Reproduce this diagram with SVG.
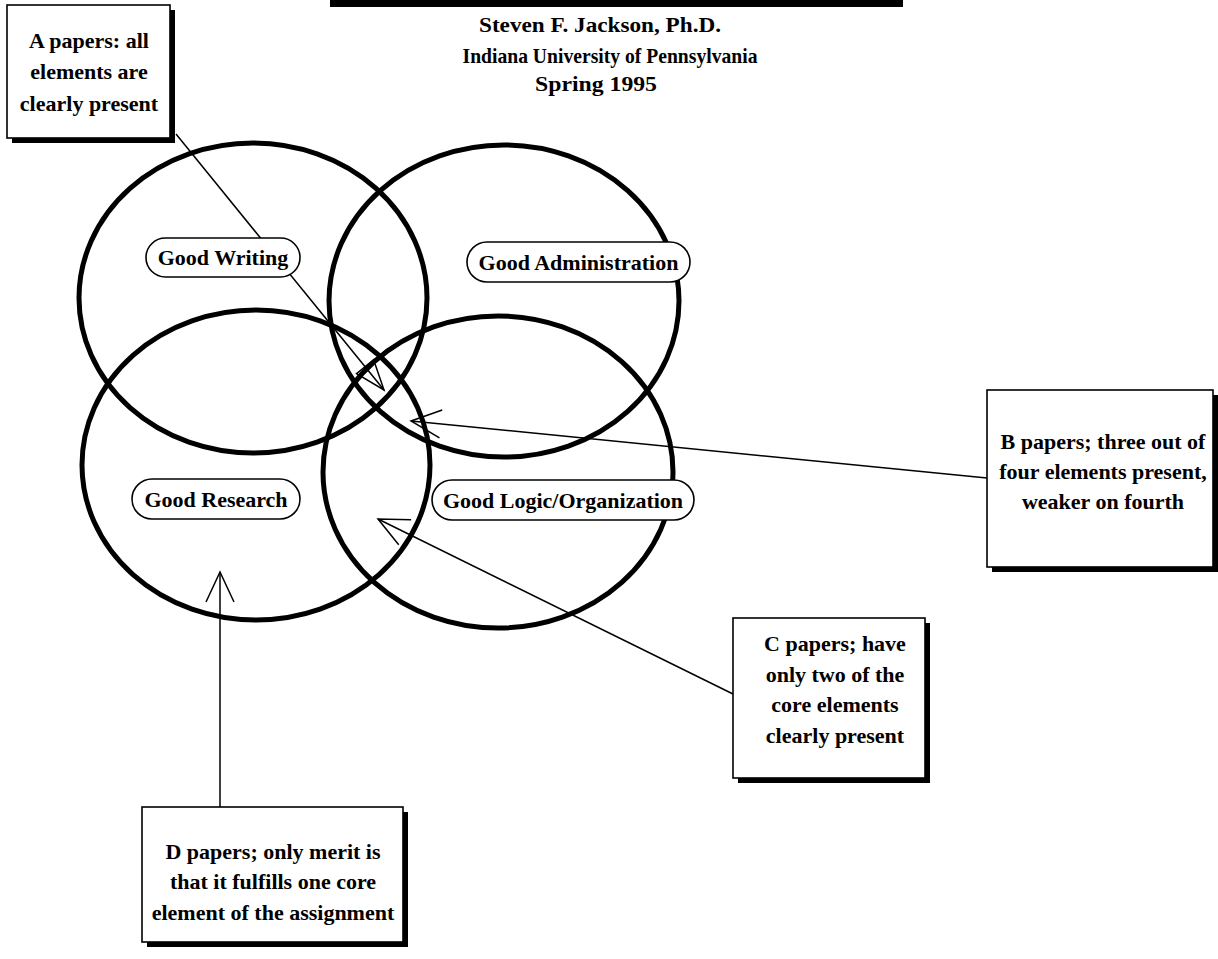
<svg xmlns="http://www.w3.org/2000/svg" width="1218" height="959" viewBox="0 0 1218 959">
<style>
  .ring { fill: none; stroke: #000; stroke-width: 5; }
  .pill { fill: #fff; stroke: #000; stroke-width: 1.6; }
  .box { fill: #fff; stroke: #000; stroke-width: 1.6; }
  .shadow { fill: #000; }
  .conn { fill: none; stroke: #000; stroke-width: 1.5; }
  text { font-family: "Liberation Serif", "Times New Roman", serif; font-weight: bold; font-size: 22px; fill: #000; text-anchor: middle; }
  .title { font-size: 21px; }
</style>
<defs>
  <marker id="open" markerUnits="userSpaceOnUse" viewBox="-34 -18 38 36" refX="0" refY="0" markerWidth="38" markerHeight="36" orient="auto" overflow="visible">
    <path d="M-30,-14 L0,0 L-30,14" fill="none" stroke="#000" stroke-width="1.5"/>
  </marker>
  <marker id="tri" markerUnits="userSpaceOnUse" viewBox="-34 -18 38 36" refX="0" refY="0" markerWidth="38" markerHeight="36" orient="auto" overflow="visible">
    <path d="M-30,-11 L0,0 L-30,11 Z" fill="none" stroke="#000" stroke-width="1.5"/>
  </marker>
</defs>
<rect width="1218" height="959" fill="#fff"/>

<g id="title">
  <rect x="330" y="0" width="573" height="7" fill="#000"/>
  <text class="title" x="600" y="32" textLength="242" lengthAdjust="spacingAndGlyphs">Steven F. Jackson, Ph.D.</text>
  <text class="title" x="610" y="63" textLength="295" lengthAdjust="spacingAndGlyphs">Indiana University of Pennsylvania</text>
  <text class="title" x="596" y="91" textLength="122" lengthAdjust="spacingAndGlyphs">Spring 1995</text>
</g>

<g id="circles">
  <g id="circle-writing"><ellipse class="ring" cx="253" cy="298" rx="174" ry="155"/></g>
  <g id="circle-administration"><ellipse class="ring" cx="504" cy="301" rx="175" ry="156"/></g>
  <g id="circle-research"><ellipse class="ring" cx="256" cy="465" rx="174" ry="155"/></g>
  <g id="circle-logic"><ellipse class="ring" cx="498" cy="472" rx="175" ry="156"/></g>
</g>

<g id="connectors">
  <line class="conn" x1="176" y1="134" x2="384" y2="390" marker-end="url(#tri)"/>
  <line class="conn" x1="987" y1="478" x2="411" y2="421" marker-end="url(#open)"/>
  <line class="conn" x1="733" y1="694" x2="378" y2="519" marker-end="url(#open)"/>
  <line class="conn" x1="220" y1="807" x2="220" y2="572" marker-end="url(#open)"/>
</g>

<g id="label-writing">
  <rect class="pill" x="146" y="238" width="154" height="39" rx="19.5"/>
  <text x="223" y="265">Good Writing</text>
</g>
<g id="label-administration">
  <rect class="pill" x="467" y="242" width="223" height="40" rx="20"/>
  <text x="578.5" y="270">Good Administration</text>
</g>
<g id="label-research">
  <rect class="pill" x="132" y="479" width="168" height="40" rx="20"/>
  <text x="216" y="507">Good Research</text>
</g>
<g id="label-logic">
  <rect class="pill" x="432" y="480" width="262" height="40" rx="20"/>
  <text x="563" y="508">Good Logic/Organization</text>
</g>

<g id="box-a">
  <rect class="shadow" x="12" y="10" width="163" height="133"/>
  <rect class="box" x="7" y="5" width="163" height="133"/>
  <text x="89" y="48">A papers: all</text>
  <text x="89" y="79">elements are</text>
  <text x="89" y="111">clearly present</text>
</g>

<g id="box-b">
  <rect class="shadow" x="992" y="395" width="226" height="177"/>
  <rect class="box" x="987" y="390" width="226" height="177"/>
  <text x="1103" y="449">B papers; three out of</text>
  <text x="1103" y="479">four elements present,</text>
  <text x="1103" y="509">weaker on fourth</text>
</g>

<g id="box-c">
  <rect class="shadow" x="738" y="623" width="192" height="160"/>
  <rect class="box" x="733" y="618" width="192" height="160"/>
  <text x="835" y="651">C papers; have</text>
  <text x="835" y="682">only two of the</text>
  <text x="835" y="712">core elements</text>
  <text x="835" y="743">clearly present</text>
</g>

<g id="box-d">
  <rect class="shadow" x="147" y="812" width="261" height="135"/>
  <rect class="box" x="142" y="807" width="261" height="135"/>
  <text x="273" y="859">D papers; only merit is</text>
  <text x="273" y="889">that it fulfills one core</text>
  <text x="273" y="920">element of the assignment</text>
</g>
</svg>
